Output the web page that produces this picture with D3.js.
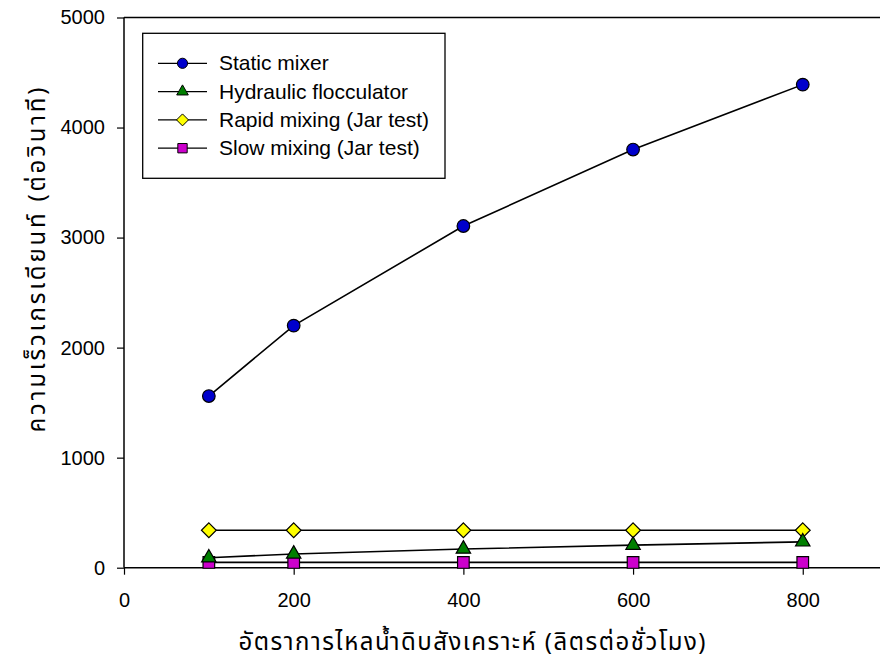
<!DOCTYPE html>
<html>
<head>
<meta charset="utf-8">
<script src="https://cdn.jsdelivr.net/npm/d3@7/dist/d3.min.js"></script>
<style>
  body { margin: 0; background: #fff; }
  svg text { font-family: "Liberation Sans", Arial, sans-serif; fill: #000; }
  svg text.thai { font-family: "Noto Sans Thai", "Noto Sans Thai UI", "Loma", "Garuda", "Liberation Sans", sans-serif; font-weight: 400; }
</style>
</head>
<body>
<svg id="chart" width="880" height="662"></svg>
<script>
// Flow rate (L/h) on x, velocity gradient (1/s) on y
const flowRates = [100, 200, 400, 600, 800];
const staticMixer = [1560, 2200, 3105, 3800, 4390];
const hydraulicFlocculator = [90, 125, 170, 205, 235];
const rapidMixing = [340, 340, 340, 340, 340];
const slowMixing = [48, 48, 48, 48, 48];

const seriesNames = ["Static mixer", "Hydraulic flocculator", "Rapid mixing (Jar test)", "Slow mixing (Jar test)"];
const xTicks = [0, 200, 400, 600, 800];
const yTicks = [0, 1000, 2000, 3000, 4000, 5000];
const xTitle = "อัตราการไหลน้ำดิบสังเคราะห์ (ลิตรต่อชั่วโมง)";
const yTitle = "ความเร็วเกรเดียนท์ (ต่อวินาที)";

// square turned 45 degrees, as wide as it is tall
const symbolRhombus = {
  draw(context, size) {
    const r = Math.sqrt(size / 2);
    context.moveTo(0, -r);
    context.lineTo(r, 0);
    context.lineTo(0, r);
    context.lineTo(-r, 0);
    context.closePath();
  }
};

const series = [
  { name: seriesNames[0], values: staticMixer, shape: d3.symbolCircle, fill: "#0000CC", size: 125 },
  { name: seriesNames[1], values: hydraulicFlocculator, shape: d3.symbolTriangle, fill: "#007F00", size: 90 },
  { name: seriesNames[2], values: rapidMixing, shape: symbolRhombus, fill: "#FFFF00", size: 110 },
  { name: seriesNames[3], values: slowMixing, shape: d3.symbolSquare, fill: "#CC00CC", size: 135 }
];

const svg = d3.select("#chart");
const x = d3.scaleLinear().domain([0, 900]).range([124, 887.6]);
const y = d3.scaleLinear().domain([0, 5000]).range([567.7, 17.5]);

// axes
const xAxis = svg.append("g").attr("transform", `translate(0,${y(0)})`)
  .call(d3.axisBottom(x).tickValues(xTicks).tickSize(7).tickPadding(18).tickFormat(d3.format("d")));
const yAxis = svg.append("g").attr("transform", `translate(${x(0)},0)`)
  .call(d3.axisLeft(y).tickValues(yTicks).tickSize(7).tickPadding(12).tickFormat(d3.format("d")));
[xAxis, yAxis].forEach(a => {
  a.select(".domain").attr("stroke", "#000").attr("stroke-width", 1.5);
  a.selectAll(".tick line").attr("stroke", "#000").attr("stroke-width", 1.2);
  a.selectAll(".tick text").style("font-size", "20px").style("font-family", "'Liberation Sans', Arial, sans-serif");
});
xAxis.select(".domain").attr("d", `M${x(0)},0H880`);
yAxis.select(".domain").attr("d", `M0,${y(0)}V${y(5000)}`);
// top frame line
svg.append("line").attr("x1", x(0)).attr("x2", 880).attr("y1", y(5000)).attr("y2", y(5000))
  .attr("stroke", "#000").attr("stroke-width", 1.5);

// series lines and markers
const line = d3.line().x((d, i) => x(flowRates[i])).y(d => y(d));
const order = [3, 2, 1, 0];
order.forEach(k => {
  svg.append("path").datum(series[k].values).attr("d", line)
    .attr("fill", "none").attr("stroke", "#000").attr("stroke-width", 1.6);
});
order.forEach(k => {
  const s = series[k];
  svg.append("g").selectAll("path").data(s.values).join("path")
    .attr("transform", (d, i) => `translate(${x(flowRates[i])},${y(d)})`)
    .attr("d", d3.symbol().type(s.shape).size(s.size))
    .attr("fill", s.fill).attr("stroke", "#000").attr("stroke-width", 1.2);
});

// legend
const lg = svg.append("g");
lg.append("rect").attr("x", 142.7).attr("y", 33.3).attr("width", 302.3).attr("height", 145)
  .attr("fill", "#fff").attr("stroke", "#000").attr("stroke-width", 1.3);
series.forEach((s, i) => {
  const cy = 63.3 + i * 28.3;
  lg.append("line").attr("x1", 158).attr("x2", 207).attr("y1", cy).attr("y2", cy)
    .attr("stroke", "#000").attr("stroke-width", 1.3);
  lg.append("path").attr("transform", `translate(182.5,${cy})`)
    .attr("d", d3.symbol().type(s.shape).size(s.size * 0.65))
    .attr("fill", s.fill).attr("stroke", "#000").attr("stroke-width", 1);
  lg.append("text").attr("x", 219).attr("y", cy + 7).style("font-size", "21px").text(s.name);
});

// axis titles
svg.append("text").attr("class", "thai").attr("x", 472).attr("y", 650).attr("text-anchor", "middle")
  .attr("textLength", 467).attr("lengthAdjust", "spacing")
  .style("font-size", "24px").text(xTitle);
svg.append("text").attr("class", "thai").attr("transform", "translate(45,260) rotate(-90)").attr("text-anchor", "middle")
  .attr("textLength", 345).attr("lengthAdjust", "spacing")
  .style("font-size", "24px").text(yTitle);
</script>
</body>
</html>
